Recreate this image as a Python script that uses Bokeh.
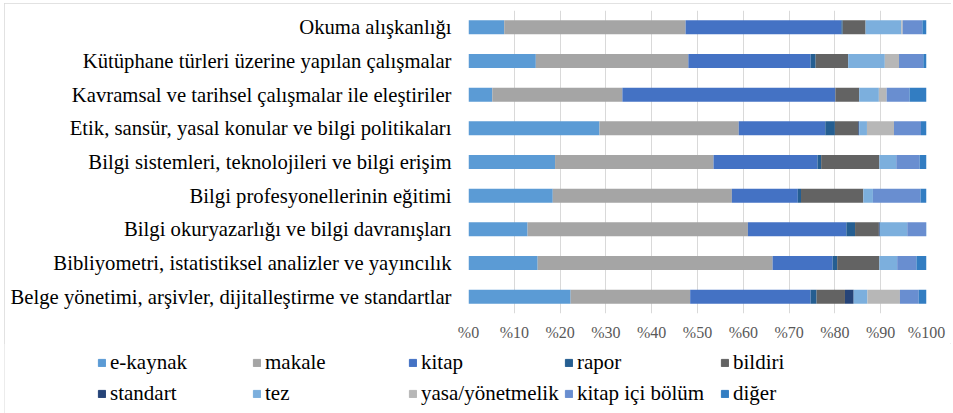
from bokeh.plotting import figure
from bokeh.layouts import column
from bokeh.models import FactorRange, ColumnDataSource, FixedTicker, Legend, LegendItem
from bokeh.embed import file_html
from bokeh.resources import INLINE

categories = [
    "Okuma alışkanlığı",
    "Kütüphane türleri üzerine yapılan çalışmalar",
    "Kavramsal ve tarihsel çalışmalar ile eleştiriler",
    "Etik, sansür, yasal konular ve bilgi politikaları",
    "Bilgi sistemleri, teknolojileri ve bilgi erişim",
    "Bilgi profesyonellerinin eğitimi",
    "Bilgi okuryazarlığı ve bilgi davranışları",
    "Bibliyometri, istatistiksel analizler ve yayıncılık",
    "Belge yönetimi, arşivler, dijitalleştirme ve standartlar",
]

series_names = ["e-kaynak", "makale", "kitap", "rapor", "bildiri",
                "standart", "tez", "yasa/yönetmelik", "kitap içi bölüm", "diğer"]

e_kaynak = [7.8, 14.7, 5.2, 28.6, 18.9, 18.4, 12.9, 15.1, 22.3]
makale = [39.6, 33.3, 28.4, 30.4, 34.6, 39.1, 48.1, 51.3, 26.1]
kitap = [34.0, 26.7, 46.5, 18.9, 22.7, 14.4, 21.5, 13.1, 26.3]
rapor = [0.3, 1.1, 0.0, 2.1, 0.8, 0.7, 1.9, 1.0, 1.3]
bildiri = [5.0, 7.1, 5.2, 5.1, 12.7, 13.6, 5.2, 9.2, 6.2]
standart = [0.0, 0.0, 0.0, 0.2, 0.0, 0.0, 0.2, 0.0, 1.9]
tez = [7.8, 8.0, 4.3, 1.7, 3.7, 2.1, 6.0, 3.9, 3.0]
yasa_yonetmelik = [0.3, 3.1, 1.7, 5.9, 0.0, 0.0, 0.0, 0.0, 7.1]
kitap_ici_bolum = [4.3, 5.3, 5.0, 5.9, 5.1, 10.4, 4.1, 4.2, 4.1]
diger = [0.9, 0.7, 3.7, 1.2, 1.5, 1.3, 0.1, 2.2, 1.7]

tick_values = [0, 10, 20, 30, 40, 50, 60, 70, 80, 90, 100]
tick_labels = ["%0", "%10", "%20", "%30", "%40", "%50", "%60", "%70", "%80", "%90", "%100"]

colors = ["#5B9BD5", "#A5A5A5", "#4472C4", "#255E91", "#636363",
          "#264478", "#7CAFDD", "#B7B7B7", "#698ED0", "#327DC2"]

all_series = [e_kaynak, makale, kitap, rapor, bildiri, standart, tez,
              yasa_yonetmelik, kitap_ici_bolum, diger]
keys = ["s%d" % i for i in range(len(all_series))]
data = {"cat": categories}
for k, s in zip(keys, all_series):
    data[k] = s
source = ColumnDataSource(data)

FONT = "serif"

p = figure(
    width=947, height=340,
    y_range=FactorRange(factors=categories[::-1]),
    x_range=(0, 100),
    output_backend="svg", toolbar_location=None,
    min_border_left=464, min_border_right=25,
    min_border_top=7, min_border_bottom=30,
    outline_line_color=None,
)
p.frame_align = False

renderers = p.hbar_stack(keys, y="cat", height=0.415, source=source,
                         color=colors, line_color=None)

p.xgrid.grid_line_color = "#D9D9D9"
p.ygrid.grid_line_color = None
p.xaxis.ticker = FixedTicker(ticks=tick_values)
p.xaxis.major_label_overrides = {v: l for v, l in zip(tick_values, tick_labels)}
p.xaxis.axis_line_color = None
p.xaxis.major_tick_line_color = None
p.xaxis.minor_tick_line_color = None
p.xaxis.major_tick_out = 0
p.xaxis.major_tick_in = 0
p.xaxis.major_label_standoff = 10
p.xaxis.major_label_text_font = FONT
p.xaxis.major_label_text_font_size = "16px"
p.xaxis.major_label_text_color = "#595959"

p.yaxis.axis_line_color = None
p.yaxis.major_tick_line_color = None
p.yaxis.minor_tick_line_color = None
p.yaxis.major_tick_out = 0
p.yaxis.major_tick_in = 0
p.yaxis.major_label_standoff = 17
p.yaxis.major_label_text_font = FONT
p.yaxis.major_label_text_font_size = "20.7px"
p.yaxis.major_label_text_color = "#000000"

# legend panel (swatch renderers have zero size; only the legend shows)
p2 = figure(
    width=947, height=70, x_range=(0, 1), y_range=(0, 1),
    output_backend="svg", toolbar_location=None,
    x_axis_location=None, y_axis_location=None,
    min_border=0, outline_line_color=None,
)
p2.frame_align = False
p2.xgrid.grid_line_color = None
p2.ygrid.grid_line_color = None
swatches = [p2.hbar(y=[0.5], left=[0], right=[0], height=0, color=c) for c in colors]

col_x = [93, 248, 404, 560, 716]
for c in range(5):
    items = [LegendItem(label=series_names[c], renderers=[swatches[c]]),
             LegendItem(label=series_names[c + 5], renderers=[swatches[c + 5]])]
    leg = Legend(items=items, location=(col_x[c], 4), orientation="vertical",
                 padding=0, margin=0, spacing=0, border_line_color=None,
                 background_fill_alpha=0, glyph_width=9, glyph_height=9,
                 label_standoff=4, label_height=31,
                 label_text_font=FONT, label_text_font_size="21px",
                 label_text_color="#000000")
    p2.add_layout(leg, "center")

layout = column(p, p2, spacing=0,
                styles={"margin-left": "4px", "margin-top": "3px",
                        "outline": "1px solid #D9D9D9", "outline-offset": "-1px"})

open("out.html", "w").write(file_html(layout, INLINE))
